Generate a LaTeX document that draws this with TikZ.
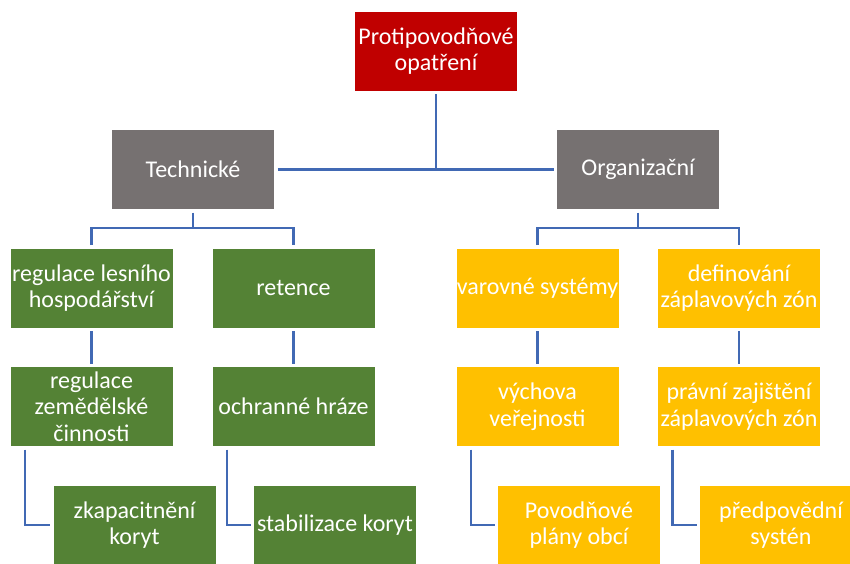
\documentclass[tikz,border=0pt]{standalone}
\usepackage{fontspec}
\setmainfont{Carlito}
\definecolor{cred}{HTML}{C00000}
\definecolor{cgray}{HTML}{767171}
\definecolor{cgreen}{HTML}{548235}
\definecolor{cyellow}{HTML}{FFC000}
\definecolor{cline}{HTML}{4169B4}
\tikzset{
  box/.style={rectangle, draw=white, line width=0.6pt, text=white, align=center,
    inner sep=0pt, outer sep=3pt, minimum width=163pt, minimum height=80pt,
    font=\fontsize{24}{26.5}\selectfont},
  redbox/.style={box, fill=cred},
  graybox/.style={box, fill=cgray},
  greenbox/.style={box, fill=cgreen},
  yellowbox/.style={box, fill=cyellow},
  conn/.style={draw=cline, line width=2.6pt}
}
\begin{document}
\begin{tikzpicture}[x=1pt,y=1pt]
\useasboundingbox (0,0) rectangle (850,-563);
\begin{scope}
\clip (0,0) rectangle (850,-563);
\node[redbox] (top) at (436,-51) {Protipovodňové\\opatření};
\node[graybox] (tech) at (193,-169.5) {Technické};
\node[graybox] (org) at (638,-169.5) {Organizační};
\node[greenbox] (g1) at (91.5,-288) {regulace lesního\\hospodářství};
\node[greenbox] (g2) at (293.5,-288) {retence};
\node[greenbox] (g3) at (91.5,-406.5) {regulace\\zemědělské\\činnosti};
\node[greenbox] (g4) at (293.5,-406.5) {ochranné hráze};
\node[greenbox] (g5) at (134.5,-525) {zkapacitnění\\koryt};
\node[greenbox] (g6) at (335,-525) {stabilizace koryt};
\node[yellowbox] (y1) at (537.5,-288) {varovné systémy};
\node[yellowbox] (y2) at (739,-288) {definování\\záplavových zón};
\node[yellowbox] (y3) at (537.5,-406.5) {výchova\\veřejnosti};
\node[yellowbox] (y4) at (739,-406.5) {právní zajištění\\záplavových zón};
\node[yellowbox] (y5) at (579,-525) {Povodňové\\plány obcí};
\node[yellowbox] (y6) at (781,-525) {předpovědní\\systén};
\coordinate (tj) at (193,-228);
\coordinate (oj) at (638,-228);
\draw[conn] (top.south) -- (top.south |- tech.east);
\draw[conn] (tech.east) -- (org.west);
\draw[conn] (tech.south) -- (tj);
\draw[conn] (g1.north) |- (tj) -| (g2.north);
\draw[conn] (org.south) -- (oj);
\draw[conn] (y1.north) |- (oj) -| (y2.north);
\draw[conn] (g1.south) -- (g3.north);
\draw[conn] (g2.south) -- (g4.north);
\draw[conn] (y1.south) -- (y3.north);
\draw[conn] (y2.south) -- (y4.north);
\draw[conn] ([xshift=18pt]g3.south west) |- (g5.west);
\draw[conn] ([xshift=18pt]g4.south west) |- (g6.west);
\draw[conn] ([xshift=18pt]y3.south west) |- (y5.west);
\draw[conn] ([xshift=18pt]y4.south west) |- (y6.west);
\end{scope}
\end{tikzpicture}
\end{document}
